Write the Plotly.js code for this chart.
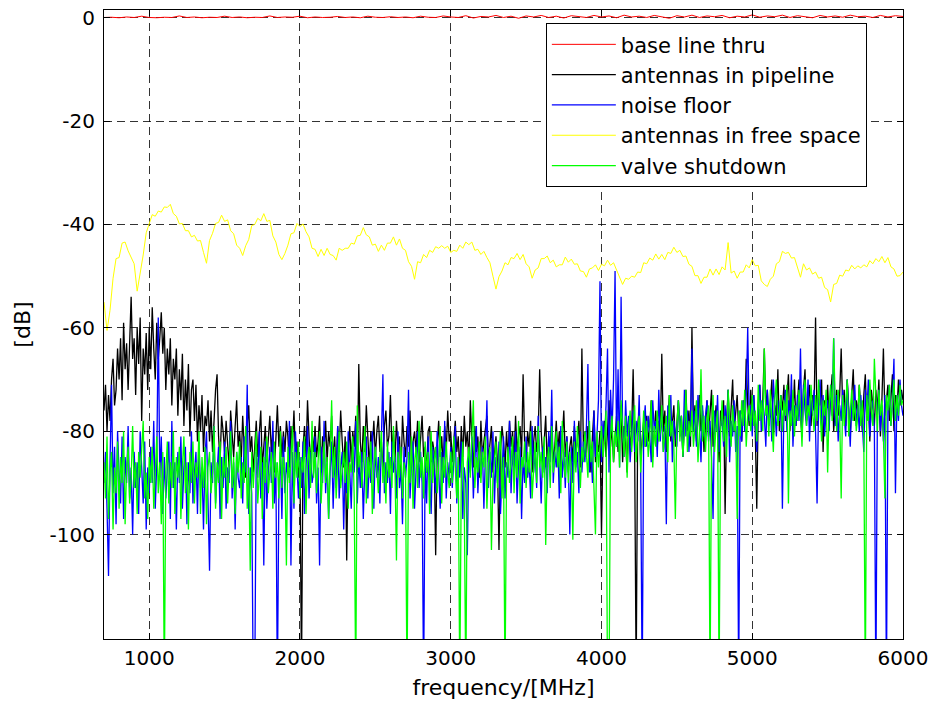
<!DOCTYPE html>
<html>
<head>
<meta charset="utf-8">
<script src="https://cdn.plot.ly/plotly-3.0.1.min.js"></script>
<style>html,body{margin:0;padding:0;background:#fff;}#chart{width:930px;height:708px;}</style>
</head>
<body>
<div id="chart"></div>
<script>
// ---------- data ----------
const seriesNames = ["base line thru", "antennas in pipeline", "noise floor", "antennas in free space", "valve shutdown"];
const xTickValues = [1000, 2000, 3000, 4000, 5000, 6000];
const yTickValues = [-100, -80, -60, -40, -20, 0];

// sample grids (MHz): start and step of each measured sweep
const noiseStartMHz = 700, noiseStepMHz = 10;   // black / blue / green
const freeStartMHz = 700, freeStepMHz = 20;     // yellow
const thruStartMHz = 700, thruStepMHz = 50;     // red

// base line thru [dB], 700..6000 step 50
const baseLineThru = [
 0.05,0.1,0,0.15,0.05,0.3,0.05,0,0.1,0.05,
 0.35,0.05,0.15,0,0.1,0.05,0.3,0.05,0.15,0,
 0.1,0.05,0.35,0.05,0.15,0.1,0.3,0,0.15,0.05,
 0.1,0.25,0.05,0.15,0,0.3,0.1,0.05,0.2,0.05,
 0.15,0,0.3,0.1,0.05,0.35,0.15,
 0.05,0.4,-0.05,0.25,0.15,0.45,0.05,0.3,-0.1,0.35,
 0.15,0.45,0.05,0.3,-0.05,0.4,0.2,0.05,0.45,0.15,
 0.35,0,0.5,0.15,0.3,0.05,0.45,0.2,-0.1,0.4,
 0.15,0.5,0.05,0.35,0.2,0.45,0,0.3,0.15,0.55,
 0.1,0.35,0.2,0.5,0.05,0.4,0.25,0,0.45,0.15,
 0.35,0.1,0.5,0.2,0.3,0.05,0.45,0.15,0.4,0.25
];

// antennas in free space [dB], 700..6000 step 20
const antennasFreeSpace = [
 -55,-60.5,-56.6,-50.4,-46.6,-46.4,-43.6,-43.4,-45.1,-46.4,
 -47.6,-52.9,-49.6,-45.9,-41.6,-39.9,-38.1,-38.4,-37.4,-37.6,
 -36.6,-36.7,-36.1,-37.9,-38.4,-39.9,-39.8,-41.2,-41.2,-42.4,
 -42.1,-43.2,-43.1,-45.4,-47.5,-43.1,-41.7,-39.8,-39.6,-38.2,
 -39.4,-39.1,-41.2,-41.8,-44,-44.6,-46,-44.1,-42.9,-40.2,
 -40,-38.8,-39.3,-37.9,-39.4,-39.2,-42.2,-43.4,-45.8,-46.8,
 -45.6,-44,-41.8,-41.6,-39.8,-40.4,-39.9,-41.4,-42.4,-44.6,
 -44.8,-46.2,-44.8,-46,-44.6,-45.8,-46,-46.9,-44.6,-45,
 -44.6,-44.6,-43.6,-43.8,-42.2,-42.1,-40.6,-42,-42.4,-44,
 -43.8,-45.2,-44,-45,-43.6,-43.6,-42.4,-44,-42.8,-44.6,
 -45,-47.2,-48.1,-50.6,-47.2,-47.4,-45.8,-46.4,-45,-45.4,
 -44.3,-44.6,-44.1,-44.6,-44.2,-45.4,-45,-45.2,-44,-44.6,
 -43.4,-43.9,-43.4,-45,-44.8,-45.8,-45.2,-46.4,-47.4,-50,
 -52.5,-50.1,-49,-47.4,-47.8,-46.4,-46.6,-45.6,-46.8,-45.8,
 -47.6,-48.2,-50.4,-48.8,-48.4,-46.6,-46.6,-46.1,-47.4,-46.9,
 -48.2,-47.8,-47.8,-46.3,-47.3,-46.7,-47.7,-47.6,-49,-49.1,
 -50.2,-48.6,-48.4,-47.8,-48.9,-47.7,-48,-46.9,-47.9,-47.4,
 -48.8,-49.9,-51.6,-50.4,-50.6,-50,-50.2,-49.2,-49.3,-47.4,
 -47.6,-46.5,-46.9,-45.7,-46.7,-45.8,-46.8,-45.4,-45.6,-44.4,
 -45.4,-45,-46.2,-46.1,-47.7,-48.1,-49.9,-49.9,-51.4,-50.2,
 -50.2,-48.6,-49.8,-48.6,-49.7,-48.2,-48.8,-43.5,-49.4,-49,
 -50.4,-49.2,-49.2,-47.8,-48.4,-46.8,-48,-47.9,-50.9,-51.6,
 -52,-50.6,-50,-47.6,-47.2,-45.2,-45.6,-45.4,-46.5,-46.4,
 -48.4,-50.2,-47.6,-48.8,-48.4,-49.6,-49.2,-50.4,-50.2,-52.2,
 -52.6,-55,-51.6,-51.4,-49.8,-50,-48.8,-49,-47.9,-48.6,
 -48,-48.4,-47.8,-48.2,-47,-47.6,-46.6,-47.2,-46.2,-47.4,
 -46.4,-48.2,-48.6,-50,-49.9,-49.2
];

// antennas in pipeline [dB], 700..6000 step 10 (rows of 100 MHz)
const antennasPipeline = [
 -76,-71,-80,-73,-78,-70,-66,-75,-72,-64,   // 700
 -70,-62,-74,-59,-68,-63,-72,-61,-54,-66,   // 800
 -62,-73,-60,-67,-58,-78,-64,-69,-61,-72,   // 900
 -60,-68,-56,-64,-70,-59,-66,-62,-57,-65,   // 1000
 -60,-72,-64,-69,-62,-75,-66,-70,-64,-77,   // 1100
 -68,-74,-65,-79,-70,-76,-67,-81,-72,-70,   // 1200
 -78,-71,-82,-75,-80,-73,-84,-77,-79,-74,   // 1300
 -82,-76,-84,-78,-72,-69,-81,-86,-77,-80,   // 1400
 -84,-78,-82,-87,-76,-81,-85,-79,-74,-83,   // 1500
 -80,-86,-77,-83,-89,-79,-75,-84,-81,-88,   // 1600
 -82,-78,-85,-80,-76,-87,-83,-79,-86,-81,   // 1700
 -77,-84,-80,-88,-82,-75,-83,-79,-85,-80,   // 1800
 -84,-78,-81,-87,-79,-83,-76,-85,-82,-89,   // 1900
 -86,-128,-83,-79,-85,-74,-81,-87,-80,-84,  // 2000
 -79,-85,-82,-77,-88,-81,-84,-78,-86,-80,   // 2100
 -83,-77,-86,-81,-89,-79,-84,-76,-82,-87,   // 2200
 -81,-105,-84,-79,-86,-80,-83,-77,-88,-67,  // 2300
 -82,-86,-79,-84,-75,-81,-87,-80,-83,-78,   // 2400
 -85,-80,-77,-84,-82,-88,-79,-76,-83,-81,   // 2500
 -73,-84,-80,-86,-78,-83,-81,-89,-77,-82,   // 2600
 -85,-79,-83,-76,-87,-82,-80,-84,-78,-86,   // 2700
 -81,-77,-85,-83,-88,-80,-79,-86,-82,-84,   // 2800
 -104,-83,-78,-85,-81,-87,-79,-84,-76,-82,  // 2900
 -80,-86,-82,-78,-84,-81,-88,-79,-85,-77,   // 3000
 -83,-80,-86,-74,-82,-87,-79,-84,-81,-89,   // 3100
 -78,-85,-82,-80,-77,-86,-83,-79,-88,-84,   // 3200
 -81,-86,-103,-84,-79,-82,-87,-80,-85,-78,  // 3300
 -83,-80,-86,-77,-84,-81,-79,-85,-69,-82,   // 3400
 -86,-80,-83,-78,-88,-82,-79,-84,-81,-68,   // 3500
 -80,-85,-82,-77,-87,-81,-84,-79,-86,-83,   // 3600
 -78,-84,-80,-87,-82,-76,-85,-81,-88,-83,   // 3700
 -81,-86,-79,-84,-82,-78,-87,-64,-83,-80,   // 3800
 -85,-79,-83,-88,-81,-76,-86,-82,-84,-80,   // 3900
 -100,-82,-78,-85,-80,-74,-83,-79,-86,-81,  // 4000
 -77,-84,-80,-75,-86,-79,-82,-88,-78,-83,   // 4100
 -80,-68,-84,-128,-79,-76,-85,-81,-78,-83,  // 4200
 -77,-82,-79,-74,-85,-80,-76,-83,-78,-81,   // 4300
 -65,-80,-76,-84,-78,-73,-82,-79,-75,-83,   // 4400
 -78,-74,-81,-77,-85,-79,-72,-80,-76,-83,   // 4500
 -60,-79,-75,-82,-77,-73,-80,-76,-84,-78,   // 4600
 -74,-81,-77,-72,-83,-78,-75,-80,-86,-76,   // 4700
 -79,-74,-96,-78,-72,-81,-76,-70,-80,-77,   // 4800
 -73,-80,-76,-82,-74,-78,-66,-75,-79,-72,   // 4900
 -77,-73,-80,-95,-75,-71,-78,-74,-64,-76,   // 5000
 -72,-79,-74,-70,-81,-75,-77,-68,-80,-73,   // 5100
 -76,-71,-78,-74,-69,-80,-73,-77,-70,-79,   // 5200
 -74,-70,-77,-81,-72,-68,-78,-75,-71,-79,   // 5300
 -73,-76,-58,-79,-72,-75,-70,-84,-74,-77,   // 5400
 -71,-78,-74,-69,-80,-75,-72,-77,-73,-64,   // 5500
 -76,-72,-79,-70,-75,-81,-73,-68,-78,-74,   // 5600
 -77,-71,-75,-80,-73,-69,-78,-74,-82,-72,   // 5700
 -75,-79,-72,-76,-70,-81,-74,-64,-77,-73,   // 5800
 -71,-78,-74,-69,-80,-73,-76,-70,-75,-72,   // 5900
 -74                                        // 6000
];

// noise floor [dB], 700..6000 step 10
const noiseFloor = [
 -90,-84,-95,-108,-86,-71,-92,-83,-98,-80,  // 700
 -88,-94,-81,-97,-85,-90,-79,-93,-87,-100,  // 800
 -84,-91,-86,-96,-80,-89,-94,-82,-99,-87,   // 900
 -92,-83,-90,-78,-95,-86,-58,-89,-81,-96,   // 1000
 -85,-93,-88,-82,-97,-78,-91,-86,-99,-84,   // 1100
 -90,-81,-95,-87,-83,-98,-86,-92,-80,-94,   // 1200
 -88,-84,-96,-82,-91,-87,-99,-85,-80,-93,   // 1300
 -107,-86,-90,-79,-94,-88,-83,-97,-85,-91,  // 1400
 -82,-95,-87,-90,-78,-93,-86,-99,-84,-89,   // 1500
 -91,-85,-94,-81,-88,-71,-96,-87,-92,-130,  // 1600
 -130,-84,-89,-80,-93,-86,-106,-82,-95,-88, // 1700
 -83,-90,-78,-94,-86,-130,-91,-84,-97,-81,  // 1800
 -92,-86,-89,-78,-106,-84,-95,-80,-88,-93,  // 1900
 -85,-91,-82,-96,-87,-79,-93,-84,-90,-88,   // 2000
 -81,-94,-87,-106,-83,-90,-78,-92,-86,-97,  // 2100
 -88,-82,-95,-85,-91,-79,-93,-87,-84,-99,   // 2200
 -86,-92,-80,-89,-95,-83,-88,-78,-94,-85,   // 2300
 -91,-84,-97,-87,-81,-93,-86,-90,-80,-95,   // 2400
 -83,-89,-85,-94,-79,-69,-92,-86,-90,-84,   // 2500
 -96,-82,-88,-85,-93,-80,-91,-87,-98,-83,   // 2600
 -89,-85,-72,-93,-86,-82,-95,-88,-80,-91,   // 2700
 -84,-90,-130,-86,-94,-81,-89,-96,-83,-88,  // 2800
 -92,-80,-87,-95,-84,-90,-78,-93,-86,-89,   // 2900
 -83,-91,-86,-79,-94,-85,-89,-82,-97,-87,   // 3000
 -90,-104,-84,-88,-81,-93,-86,-79,-92,-85,  // 3100
 -88,-83,-95,-86,-74,-91,-84,-89,-80,-94,   // 3200
 -85,-90,-82,-96,-87,-81,-93,-86,-89,-78,   // 3300
 -92,-84,-88,-80,-94,-86,-83,-97,-85,-90,   // 3400
 -81,-89,-86,-93,-79,-88,-84,-91,-77,-87,   // 3500
 -94,-83,-88,-85,-92,-80,-86,-72,-90,-84,   // 3600
 -87,-82,-93,-79,-89,-84,-91,-81,-86,-100,  // 3700
 -83,-90,-78,-87,-84,-92,-80,-88,-82,-86,   // 3800
 -79,-67,-88,-83,-90,-76,-85,-81,-74,-51,   // 3900
 -86,-78,-82,-75,-64,-88,-72,-80,-70,-49,   // 4000
 -83,-68,-87,-54,-79,-85,-74,-81,-77,-86,   // 4100
 -80,-76,-84,-78,-82,-73,-87,-130,-79,-75,  // 4200
 -83,-77,-81,-86,-74,-80,-78,-85,-72,-82,   // 4300
 -76,-84,-79,-98,-75,-81,-73,-86,-78,-80,   // 4400
 -83,-74,-79,-77,-85,-72,-81,-76,-84,-78,   // 4500
 -64,-80,-76,-83,-73,-79,-86,-75,-81,-77,   // 4600
 -74,-82,-78,-85,-97,-76,-80,-73,-84,-79,   // 4700
 -77,-83,-75,-80,-72,-86,-78,-81,-74,-84,   // 4800
 -79,-130,-76,-82,-74,-80,-73,-60,-78,-75,  // 4900
 -81,-73,-78,-84,-76,-71,-80,-74,-77,-83,   // 5000
 -72,-79,-75,-82,-70,-77,-81,-74,-78,-73,   // 5100
 -95,-76,-72,-80,-74,-78,-69,-83,-75,-79,   // 5200
 -73,-78,-64,-81,-71,-76,-79,-70,-82,-74,   // 5300
 -77,-72,-80,-94,-75,-70,-79,-73,-81,-76,   // 5400
 -74,-80,-71,-77,-62,-79,-73,-82,-75,-78,   // 5500
 -72,-77,-81,-70,-76,-83,-74,-78,-71,-79,   // 5600
 -75,-80,-73,-78,-84,-72,-77,-70,-81,-76,   // 5700
 -74,-79,-130,-77,-72,-80,-75,-82,-73,-130, // 5800
 -76,-71,-79,-74,-66,-92,-73,-78,-70,-75,   // 5900
 -77                                        // 6000
];

// valve shutdown [dB], 700..6000 step 10
const valveShutdown = [
 -86,-93,-81,-97,-88,-84,-99,-87,-92,-82,   // 700
 -95,-85,-90,-80,-98,-87,-83,-94,-89,-79,   // 800
 -91,-86,-96,-84,-89,-82,-78,-93,-88,-97,   // 900
 -85,-90,-83,-95,-87,-81,-92,-86,-98,-84,   // 1000
 -130,-88,-82,-94,-86,-91,-80,-96,-85,-89,  // 1100
 -83,-97,-87,-81,-92,-86,-99,-84,-90,-82,   // 1200
 -94,-86,-89,-80,-96,-85,-91,-83,-98,-87,   // 1300
 -84,-92,-88,-79,-95,-86,-90,-82,-97,-85,   // 1400
 -89,-83,-94,-87,-80,-91,-85,-96,-84,-88,   // 1500
 -82,-93,-86,-90,-79,-95,-87,-107,-84,-91,  // 1600
 -86,-80,-94,-88,-83,-97,-85,-90,-81,-92,   // 1700
 -87,-84,-95,-82,-89,-86,-93,-80,-91,-85,   // 1800
 -88,-106,-83,-90,-86,-79,-94,-84,-89,-82,  // 1900
 -93,-85,-88,-81,-96,-86,-83,-91,-78,-89,   // 2000
 -84,-92,-86,-80,-94,-87,-82,-90,-85,-97,   // 2100
 -86,-74,-89,-83,-93,-85,-80,-91,-87,-84,   // 2200
 -90,-82,-95,-86,-88,-81,-93,-130,-75,-87,  // 2300
 -84,-91,-86,-79,-94,-85,-89,-82,-96,-87,   // 2400
 -83,-88,-92,-85,-80,-90,-86,-94,-82,-89,   // 2500
 -85,-91,-79,-87,-105,-84,-89,-83,-93,-86,  // 2600
 -88,-130,-84,-90,-81,-95,-86,-83,-91,-78,  // 2700
 -89,-85,-93,-82,-88,-84,-96,-80,-90,-86,   // 2800
 -83,-92,-87,-79,-94,-85,-89,-82,-88,-91,   // 2900
 -84,-90,-81,-87,-93,-85,-130,-88,-82,-94,  // 3000
 -130,-86,-83,-89,-80,-74,-91,-85,-88,-82,  // 3100
 -90,-84,-87,-81,-95,-86,-83,-103,-89,-85,  // 3200
 -82,-91,-86,-80,-93,-85,-130,-88,-83,-90,  // 3300
 -86,-81,-92,-84,-89,-78,-94,-85,-87,-82,   // 3400
 -91,-84,-88,-80,-93,-86,-82,-90,-79,-87,   // 3500
 -84,-89,-81,-102,-86,-83,-91,-79,-88,-85,  // 3600
 -80,-87,-83,-92,-78,-86,-89,-82,-90,-84,   // 3700
 -87,-101,-82,-88,-79,-85,-91,-83,-86,-80,  // 3800
 -84,-89,-78,-86,-82,-91,-100,-80,-87,-83,  // 3900
 -79,-85,-82,-76,-130,-130,-81,-77,-86,-80, // 4000
 -83,-78,-87,-74,-81,-85,-77,-89,-80,-76,   // 4100
 -84,-79,-75,-86,-80,-77,-88,-82,-76,-83,   // 4200
 -78,-85,-81,-74,-87,-79,-83,-76,-82,-80,   // 4300
 -75,-84,-80,-77,-86,-73,-81,-78,-83,-97,   // 4400
 -79,-74,-82,-77,-85,-80,-72,-84,-78,-81,   // 4500
 -76,-83,-79,-74,-86,-80,-68,-82,-77,-84,   // 4600
 -78,-75,-130,-81,-73,-84,-79,-76,-130,-80, // 4700
 -74,-82,-77,-85,-72,-79,-83,-75,-80,-78,   // 4800
 -97,-76,-81,-74,-79,-72,-83,-77,-75,-80,   // 4900
 -73,-79,-76,-82,-71,-78,-74,-80,-64,-77,   // 5000
 -75,-81,-72,-78,-84,-74,-70,-79,-76,-73,   // 5100
 -80,-74,-77,-71,-94,-76,-79,-72,-81,-75,   // 5200
 -78,-72,-76,-83,-73,-70,-79,-75,-77,-71,   // 5300
 -76,-80,-73,-78,-70,-75,-82,-74,-77,-72,   // 5400
 -88,-75,-71,-78,-62,-74,-80,-72,-77,-93,   // 5500
 -73,-79,-75,-70,-81,-76,-72,-78,-74,-80,   // 5600
 -77,-71,-79,-74,-81,-130,-73,-78,-70,-76,  // 5700
 -79,-66,-75,-80,-72,-77,-74,-81,-93,-73,   // 5800
 -76,-71,-79,-74,-70,-78,-73,-77,-71,-75,   // 5900
 -74                                        // 6000
];

// ---------- build figure ----------
const grid = (vals, start, step) => vals.map((_, i) => start + step * i);
const FONT = '"DejaVu Sans", "Liberation Sans", Arial, sans-serif';

const seriesValues = [baseLineThru, antennasPipeline, noiseFloor, antennasFreeSpace, valveShutdown];
const seriesStart = [thruStartMHz, noiseStartMHz, noiseStartMHz, freeStartMHz, noiseStartMHz];
const seriesStep = [thruStepMHz, noiseStepMHz, noiseStepMHz, freeStepMHz, noiseStepMHz];
const seriesColors = ["#ff0000", "#000000", "#0000ff", "#ffff00", "#00ff00"];
const seriesWidths = [1, 1.3, 1.3, 1, 1.3];

const traces = seriesValues.map((vals, k) => ({
  type: "scatter",
  mode: "lines",
  name: seriesNames[k],
  x: grid(vals, seriesStart[k], seriesStep[k]),
  y: vals,
  line: {color: seriesColors[k], width: seriesWidths[k]},
  hoverinfo: "skip"
}));

const axisCommon = {
  showline: true, linecolor: "#000", linewidth: 1, mirror: "ticks",
  ticks: "inside", ticklen: 6, tickcolor: "#000", tickwidth: 1,
  showgrid: true, gridcolor: "rgba(0,0,0,0.8)", gridwidth: 1, griddash: "8px,5px",
  zeroline: false, tickfont: {family: FONT, size: 20, color: "#000"}
};

const layout = {
  width: 930, height: 708,
  margin: {l: 104, r: 27, t: 10, b: 69, pad: 0},
  paper_bgcolor: "#fff", plot_bgcolor: "#fff",
  showlegend: true,
  font: {family: FONT, color: "#000"},
  xaxis: Object.assign({}, axisCommon, {
    range: [700, 6000], tickmode: "array", tickvals: xTickValues,
    ticktext: xTickValues.map(String), ticklabelstandoff: 1,
    title: {text: "frequency/[MHz]", font: {family: FONT, size: 22, color: "#000"}, standoff: 10}
  }),
  yaxis: Object.assign({}, axisCommon, {
    range: [-120.2, 1.5], tickmode: "array", tickvals: yTickValues,
    ticktext: yTickValues.map(String), ticklabelstandoff: 4,
    title: {text: "[dB]", font: {family: FONT, size: 22, color: "#000"}, standoff: 12}
  }),
  legend: {
    x: 0.553, y: 0.979, xanchor: "left", yanchor: "top",
    bgcolor: "#fff", bordercolor: "#000", borderwidth: 1,
    font: {family: FONT, size: 21, color: "#000"},
    itemwidth: 64, traceorder: "normal"
  }
};

Plotly.newPlot("chart", traces, layout, {staticPlot: true, displayModeBar: false});
</script>
</body>
</html>
